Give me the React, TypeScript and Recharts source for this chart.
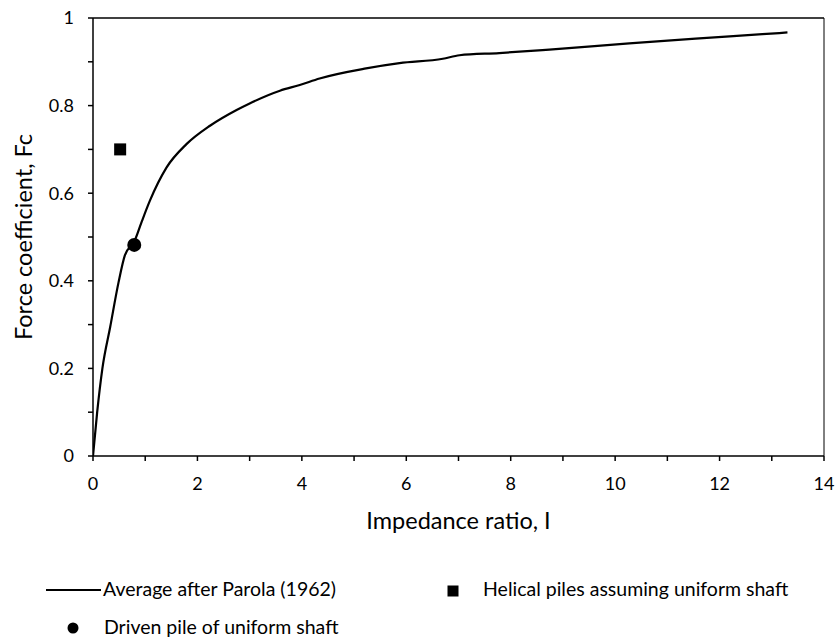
import React from "react";
import {
  ComposedChart,
  Line,
  Scatter,
  XAxis,
  YAxis,
  ReferenceLine,
} from "recharts";

// Parola (1962) average curve
const impedanceRatio = [
  0, 0.08, 0.18, 0.33, 0.49, 0.61, 0.8, 0.93, 1.09, 1.41, 1.79, 2.24, 2.75, 3.0,
  3.58, 3.96, 4.34, 5.23, 5.87, 6.7, 7.02, 7.78, 8.74, 10.27, 11.54, 12.82, 13.3,
];
const forceCoefficient = [
  0, 0.1, 0.2, 0.295, 0.397, 0.458, 0.492, 0.534, 0.583, 0.659, 0.712, 0.754,
  0.79, 0.805, 0.834, 0.847, 0.862, 0.885, 0.897, 0.907, 0.915, 0.92, 0.928,
  0.942, 0.953, 0.963, 0.967,
];

const helicalPoint = [{ x: 0.52, y: 0.7 }];
const drivenPoint = [{ x: 0.79, y: 0.482 }];

const xTicks = [0, 1, 2, 3, 4, 5, 6, 7, 8, 9, 10, 11, 12, 13, 14];
const yTicks = [0, 0.1, 0.2, 0.3, 0.4, 0.5, 0.6, 0.7, 0.8, 0.9, 1];
const yTickLabels = ["0", "", "0.2", "", "0.4", "", "0.6", "", "0.8", "", "1"];
const xTickLabels = ["0", "", "2", "", "4", "", "6", "", "8", "", "10", "", "12", "", "14"];

const legendLine = "Average after Parola (1962)";
const legendSquare = "Helical piles assuming uniform shaft";
const legendCircle = "Driven pile of uniform shaft";

const FONT = "Lato, 'Open Sans', sans-serif";

const curve = impedanceRatio.map((x, i) => ({ x, y: forceCoefficient[i] }));

function SquareShape(props: any) {
  const { cx, cy } = props;
  return <rect x={cx - 6} y={cy - 6} width={12} height={12} fill="#000" />;
}

function CircleShape(props: any) {
  const { cx, cy } = props;
  return <circle cx={cx} cy={cy} r={7} fill="#000" />;
}

function XTitle({ viewBox }: any) {
  const { x, y, width } = viewBox;
  return (
    <text x={x + width / 2} y={y + 73} textAnchor="middle" fontSize={23.5} fill="#000" fontFamily={FONT}>
      Impedance ratio, I
    </text>
  );
}

function YTitle({ viewBox }: any) {
  const { x, y, height } = viewBox;
  const cx = x + 32;
  const cy = y + height / 2;
  return (
    <text
      x={cx}
      y={cy}
      transform={`rotate(-90 ${cx} ${cy})`}
      textAnchor="middle"
      fontSize={23.5}
      fill="#000"
      fontFamily={FONT}
    >
      Force coefficient, Fc
    </text>
  );
}

export default function App() {
  const tickStyle = { fontSize: 18, fill: "#000", fontFamily: FONT };
  const textStyle: React.CSSProperties = {
    position: "absolute",
    whiteSpace: "nowrap",
    lineHeight: "24px",
  };
  return (
    <div style={{ position: "absolute", left: 0, top: 0, width: 838, height: 642, background: "#fff", overflow: "hidden" }}>
      <ComposedChart
        width={838}
        height={642}
        margin={{ top: 18, right: 14, left: 0, bottom: 106 }}
      >
        <XAxis
          type="number"
          dataKey="x"
          domain={[0, 14]}
          ticks={xTicks}
          interval={0}
          tickFormatter={(v: number) => xTickLabels[xTicks.indexOf(v)] ?? ""}
          tick={tickStyle}
          tickSize={5}
          tickMargin={16}
          height={80}
          axisLine={{ stroke: "#000", strokeWidth: 1.5 }}
          tickLine={{ stroke: "#000", strokeWidth: 1.5 }}
          allowDataOverflow
          label={<XTitle />}
        />
        <YAxis
          type="number"
          dataKey="y"
          domain={[0, 1]}
          ticks={yTicks}
          interval={0}
          tickFormatter={(v: number) => yTickLabels[yTicks.indexOf(v)] ?? ""}
          tick={tickStyle}
          tickSize={5}
          tickMargin={14}
          width={93}
          axisLine={{ stroke: "#000", strokeWidth: 1.5 }}
          tickLine={{ stroke: "#000", strokeWidth: 1.5 }}
          allowDataOverflow
          label={<YTitle />}
        />
        <ReferenceLine y={1} stroke="#000" strokeWidth={1.5} />
        <ReferenceLine x={14} stroke="#000" strokeWidth={1} />
        <Line
          data={curve}
          dataKey="y"
          type="monotone"
          stroke="#000"
          strokeWidth={2.2}
          dot={false}
          activeDot={false}
          isAnimationActive={false}
          legendType="none"
        />
        <Scatter data={helicalPoint} dataKey="y" shape={<SquareShape />} isAnimationActive={false} />
        <Scatter data={drivenPoint} dataKey="y" shape={<CircleShape />} isAnimationActive={false} />
      </ComposedChart>

      <div style={{ position: "absolute", left: 0, top: 0, fontFamily: FONT, fontSize: 19.5, color: "#000" }}>
        <svg style={{ position: "absolute", left: 46, top: 586 }} width={56} height={8}>
          <line x1={0} y1={4} x2={55} y2={4} stroke="#000" strokeWidth={2.2} />
        </svg>
        <div style={{ ...textStyle, left: 103, top: 577 }}>{legendLine}</div>
        <svg style={{ position: "absolute", left: 447, top: 585 }} width={12} height={12}>
          <rect x={0.5} y={0.5} width={11} height={11} fill="#000" />
        </svg>
        <div style={{ ...textStyle, left: 483, top: 577 }}>{legendSquare}</div>
        <svg style={{ position: "absolute", left: 67, top: 622 }} width={12} height={12}>
          <circle cx={6} cy={6} r={5.5} fill="#000" />
        </svg>
        <div style={{ ...textStyle, left: 104, top: 615 }}>{legendCircle}</div>
      </div>
    </div>
  );
}
